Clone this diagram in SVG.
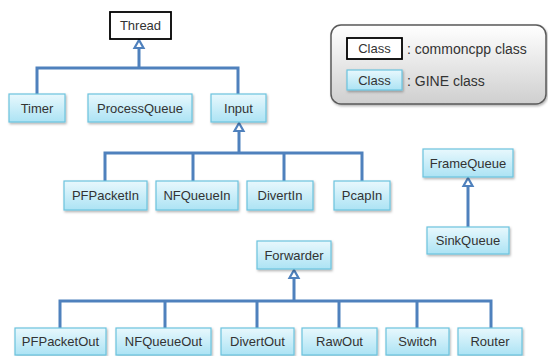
<svg xmlns="http://www.w3.org/2000/svg" width="548" height="356" viewBox="0 0 548 356">
  <defs>
    <linearGradient id="gineFill" x1="0" y1="0" x2="0" y2="1">
      <stop offset="0" stop-color="#e8f8fd"/>
      <stop offset="1" stop-color="#ace3f4"/>
    </linearGradient>
    <linearGradient id="legendFill" x1="0" y1="0" x2="0" y2="1">
      <stop offset="0" stop-color="#ffffff"/>
      <stop offset="1" stop-color="#cfcfcf"/>
    </linearGradient>
    <filter id="shadow" x="-10%" y="-10%" width="130%" height="140%">
      <feDropShadow dx="1" dy="1.5" stdDeviation="0.8" flood-color="#000" flood-opacity="0.3"/>
    </filter>
  </defs>
  <style>
    .gine rect { fill: url(#gineFill); stroke: #6cc3de; stroke-width: 1.2; filter: url(#shadow); }
    .cpp rect { fill: #ffffff; stroke: #000000; stroke-width: 1.8; }
    text { font-family: "Liberation Sans", Arial, sans-serif; font-size: 13px; fill: #333333; text-anchor: middle; dominant-baseline: central; }
    .legend-text { text-anchor: start; font-size: 14px; }
    .wire { fill: none; stroke: #4f81bd; stroke-width: 3; }
    .head { fill: #ffffff; stroke: #4f81bd; stroke-width: 2.2; stroke-linejoin: miter; }
  </style>

  <rect width="548" height="356" fill="#ffffff"/>

  <!-- legend -->
  <g id="legend">
    <rect x="331" y="25" width="215" height="79" rx="10" fill="url(#legendFill)" stroke="#5a5a5a" stroke-width="1.5" filter="url(#shadow)"/>
    <g class="cpp"><rect x="347" y="38" width="55" height="21"/></g>
    <text x="374.5" y="48.5">Class</text>
    <text class="legend-text" x="407" y="49">: commoncpp class</text>
    <g class="gine"><rect x="347" y="70" width="55" height="20"/></g>
    <text x="374.5" y="80">Class</text>
    <text class="legend-text" x="407" y="80.5">: GINE class</text>
  </g>

  <!-- inheritance connectors -->
  <g id="connectors">
    <path class="wire" d="M37,94 V68 H238 V94 M139,68 V48"/>
    <polygon class="head" points="139,40 134.5,48 143.5,48"/>

    <path class="wire" d="M105,181 V153 H362 V181 M193,153 V181 M284,153 V181 M239,153 V131"/>
    <polygon class="head" points="239,123 234.5,131 243.5,131"/>

    <path class="wire" d="M468,227 V186"/>
    <polygon class="head" points="468,178 463.5,186 472.5,186"/>

    <path class="wire" d="M60,328 V301 H491 V328 M165,301 V328 M257,301 V328 M339,301 V328 M417,301 V328 M294,301 V278"/>
    <polygon class="head" points="294,270 289.5,278 298.5,278"/>
  </g>

  <!-- classes -->
  <g id="Thread" class="cpp"><rect x="110" y="12" width="61" height="27"/><text x="140.5" y="25.5">Thread</text></g>

  <g id="Timer" class="gine"><rect x="9" y="94" width="56" height="28"/><text x="37" y="108">Timer</text></g>
  <g id="ProcessQueue" class="gine"><rect x="88" y="94" width="104" height="28"/><text x="140" y="108">ProcessQueue</text></g>
  <g id="Input" class="gine"><rect x="211" y="94" width="55" height="28"/><text x="238.5" y="108">Input</text></g>

  <g id="PFPacketIn" class="gine"><rect x="64" y="181" width="83" height="29"/><text x="105.5" y="195.5">PFPacketIn</text></g>
  <g id="NFQueueIn" class="gine"><rect x="156" y="181" width="82" height="29"/><text x="197" y="195.5">NFQueueIn</text></g>
  <g id="DivertIn" class="gine"><rect x="247" y="181" width="66" height="29"/><text x="280" y="195.5">DivertIn</text></g>
  <g id="PcapIn" class="gine"><rect x="334" y="181" width="56" height="29"/><text x="362" y="195.5">PcapIn</text></g>

  <g id="FrameQueue" class="gine"><rect x="423" y="149" width="90" height="28"/><text x="468" y="163">FrameQueue</text></g>
  <g id="SinkQueue" class="gine"><rect x="427" y="227" width="82" height="27"/><text x="468" y="240.5">SinkQueue</text></g>

  <g id="Forwarder" class="gine"><rect x="257" y="241" width="74" height="28"/><text x="294" y="255">Forwarder</text></g>

  <g id="PFPacketOut" class="gine"><rect x="15" y="328" width="91" height="27"/><text x="60.5" y="341.5">PFPacketOut</text></g>
  <g id="NFQueueOut" class="gine"><rect x="116" y="328" width="95" height="27"/><text x="163.5" y="341.5">NFQueueOut</text></g>
  <g id="DivertOut" class="gine"><rect x="221" y="328" width="73" height="27"/><text x="257.5" y="341.5">DivertOut</text></g>
  <g id="RawOut" class="gine"><rect x="302" y="328" width="75" height="27"/><text x="339.5" y="341.5">RawOut</text></g>
  <g id="Switch" class="gine"><rect x="386" y="328" width="63" height="27"/><text x="417.5" y="341.5">Switch</text></g>
  <g id="Router" class="gine"><rect x="458" y="328" width="64" height="27"/><text x="490" y="341.5">Router</text></g>
</svg>
